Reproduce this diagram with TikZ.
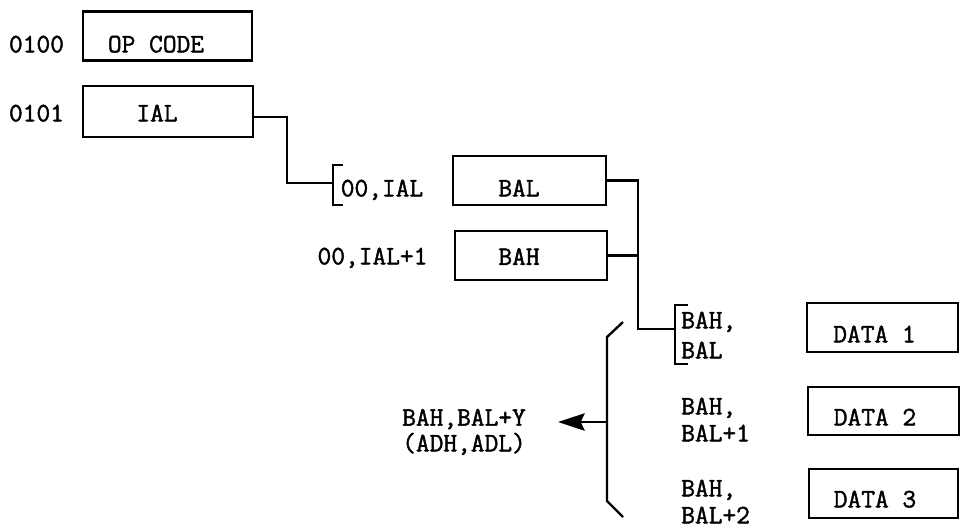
\documentclass[tikz,border=0pt]{standalone}
\usepackage{fontspec}
\usepackage{tikz}
\usetikzlibrary{arrows.meta}
\newfontfamily\typerfont[FakeBold=1.6]{Latin Modern Mono}

\begin{document}
\begin{tikzpicture}[x=0.75pt,y=0.75pt,yscale=-1,xscale=1,
    cell/.style={draw, line width=1.9pt, minimum height=37pt, inner sep=0pt},
    txt/.style={font=\typerfont\fontsize{20}{20.25}\selectfont, inner sep=0pt},
    one/.style={txt, text height=11pt, text depth=0pt},
    wire/.style={line width=1.8pt}]

\useasboundingbox (0,0) rectangle (960,529);

            %Shape: Rectangle [op code]
            \node[cell, minimum width=126.75pt] (opcode) at (167.5,36) {};
            \node[one] (opcodetxt) at ([shift={(-11.5,9)}]opcode.center) {OP CODE};
            \node[one] (addr0100) at (36.5,45) {0100};
            %Shape: Rectangle [ial]
            \node[cell, minimum width=127.5pt, minimum height=38.25pt] (ial) at (168,111.5) {};
            \node[one] (ialtxt) at ([shift={(-11,2.5)}]ial.center) {IAL};
            \node[one] (addr0101) at (36.5,114) {0101};
            %Shape: Rectangle [bal]
            \node[cell, minimum width=114.75pt, minimum height=36.75pt] (bal) at (529.5,180.5) {};
            \node[one] (baltxt) at ([shift={(-10.5,8.5)}]bal.center) {BAL};
            \node[one] (ialaddr) at (382,189) {00,IAL};
            %Shape: Rectangle [bah]
            \node[cell, minimum width=114pt, minimum height=36.75pt] (bah) at (531,255.5) {};
            \node[one] (bahtxt) at ([shift={(-12,2)}]bah.center) {BAH};
            \node[one] (ialaddrb) at (372.5,257) {00,IAL+1};
            %Shape: Rectangle [data]
            \node[cell, minimum width=113.25pt, minimum height=36.75pt] (dataa) at (882.5,327.5) {};
            \node[one] (dataatxt) at ([shift={(-8,7.5)}]dataa.center) {DATA 1};
            \node[cell, minimum width=113.25pt, minimum height=36pt] (datab) at (883.5,411) {};
            \node[one] (databtxt) at ([shift={(-8.5,7)}]datab.center) {DATA 2};
            \node[cell, minimum width=111.75pt, minimum height=36.75pt] (datac) at (883.5,493.5) {};
            \node[one] (datactxt) at ([shift={(-8.5,6.5)}]datac.center) {DATA 3};
            %Text: base addresses
            \node[txt, align=left, anchor=west] (ptra) at (681,335) {BAH,\\[2.25pt]BAL};
            \node[txt, align=left, anchor=west] (ptrb) at (681,419.5) {BAH,\\BAL+1};
            \node[txt, align=left, anchor=west] (ptrc) at (681,501.5) {BAH,\\BAL+2};
            \node[txt, align=center] (eff) at (464,432) {BAH,BAL+Y\\[-1pt](ADH,ADL)};

            \coordinate (brka) at (333,183);
            \coordinate (bend) at (638,180.5);
            \coordinate (brkb) at (675,329);
            \coordinate (fork) at (607,422);
            \coordinate (tip) at (558,422);

            %Straight Lines [ial to 00,IAL]
            \draw[wire] ([shift={(0,5.5)}]ial.east) -- ++(33,0) |- (brka);
            \draw[wire] (brka) ++(10,-18) -- ++(-10,0) -- ++(0,40) -- ++(10,0);
            %Straight Lines [bal, bah to BAH,BAL]
            \draw[wire] (bal.east) -- (bend) |- (brkb);
            \draw[wire] (bah.east) -- (bah.east -| bend);
            \draw[wire] (brkb) ++(13,-24) -- ++(-13,0) -- ++(0,59) -- ++(13,0);
            %Straight Lines [fork]
            \draw[wire] (fork) ++(16,-100) -- ++(-16,15) -- ++(0,164) -- ++(16,16);
            \draw[wire, -{Stealth[length=20pt,width=13pt,inset=3pt]}] (fork) -- (tip);

\end{tikzpicture}
\end{document}
